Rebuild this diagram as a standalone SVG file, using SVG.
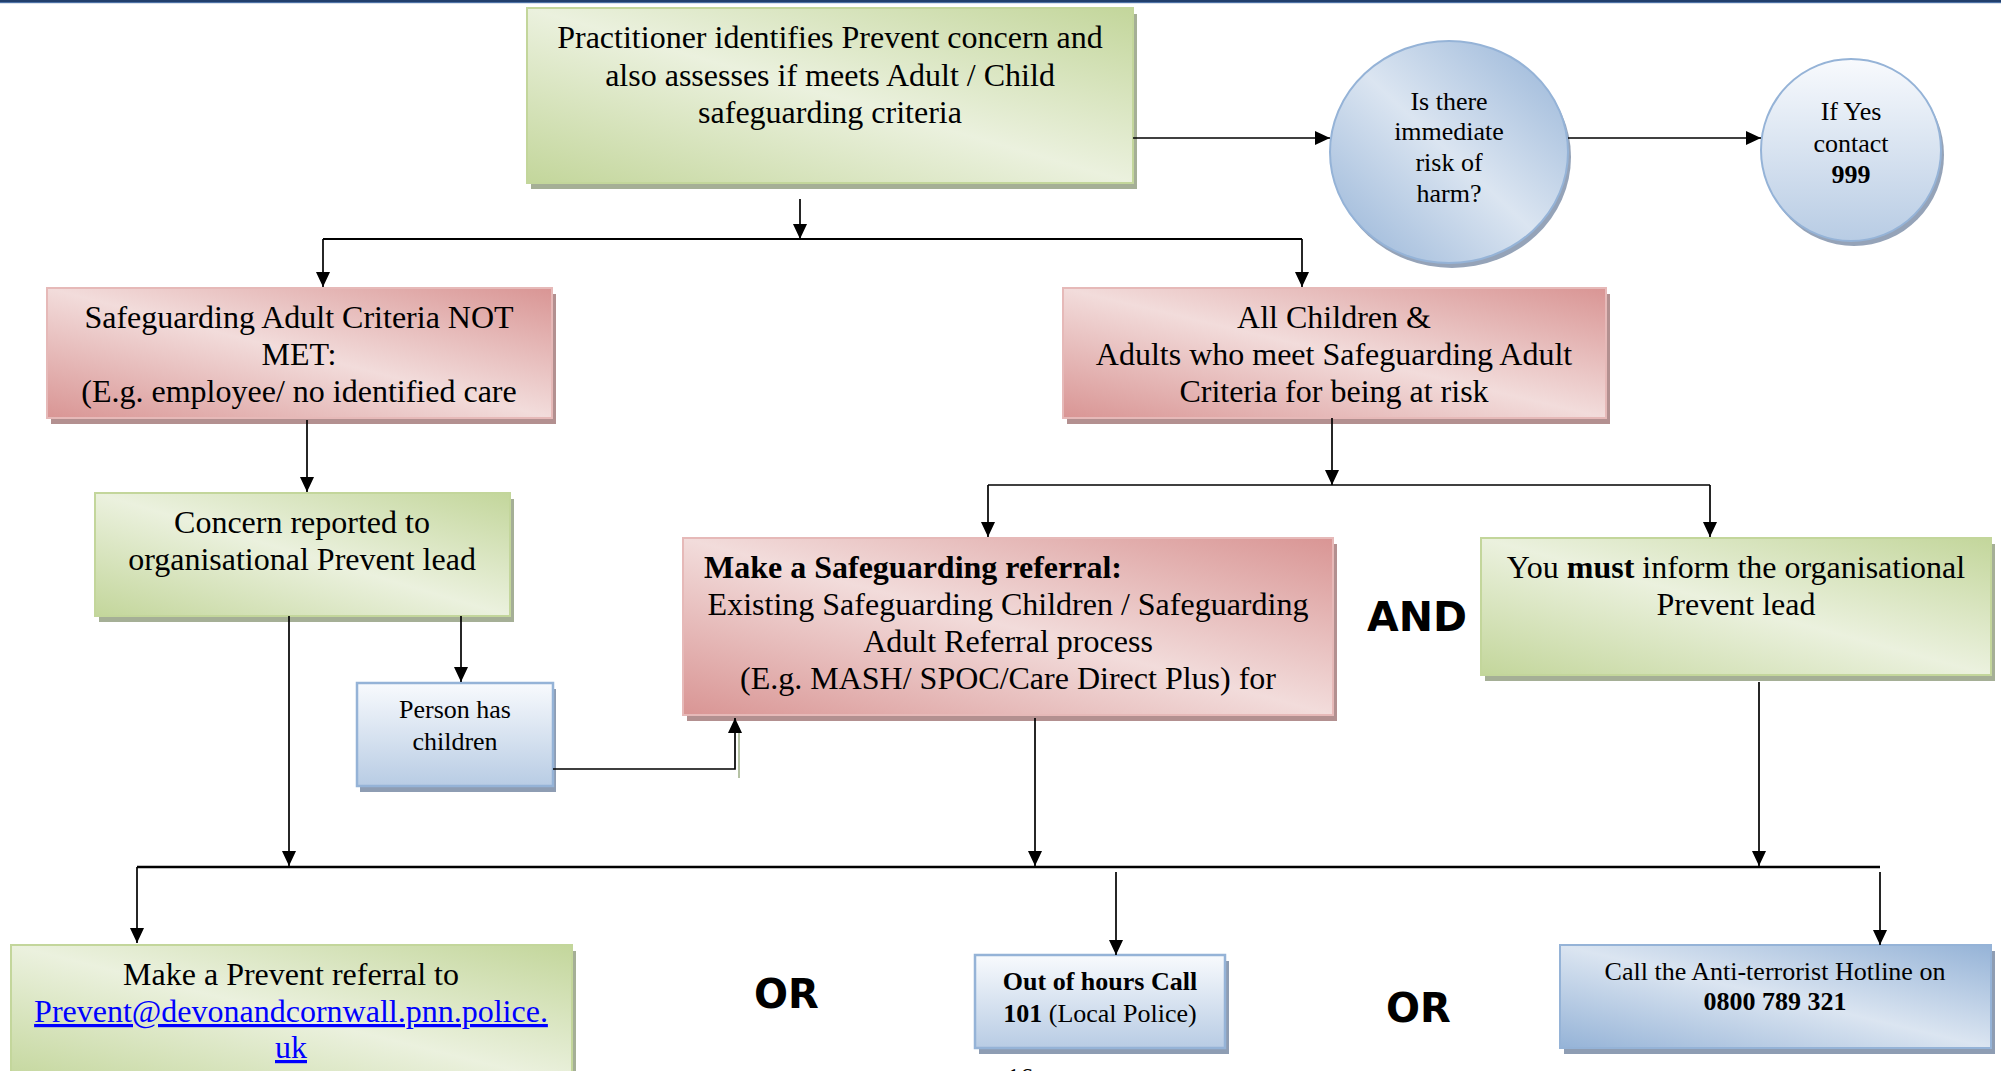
<svg xmlns="http://www.w3.org/2000/svg" width="2001" height="1071" viewBox="0 0 2001 1071">
<defs>
<style>
.t{font-family:'Liberation Serif','Times New Roman',serif;font-size:32px;fill:#000;text-anchor:middle}
.s{font-size:26px}
.b{font-weight:bold}
.k{font-family:'DejaVu Sans','Liberation Sans',sans-serif;font-weight:bold;font-size:40px;fill:#000}
.c{fill:none;stroke:#000;stroke-width:1.7}
.gb{fill:url(#gG);stroke:#C3D69B;stroke-width:2}
.rb{fill:url(#gR);stroke:#E6B9B8;stroke-width:2}
.bb{fill:url(#gB);stroke:#95B3D7;stroke-width:2}
.bv{fill:url(#gV);stroke:#95B3D7;stroke-width:2.5}
.gs{fill:#A5AF96}
.rs{fill:#B39090}
.bs{fill:#8E9DB3}
.link{fill:#0000FF;text-decoration:underline}
</style>
<linearGradient id="gG" x1="1" y1="0" x2="0" y2="1">
<stop offset="0" stop-color="#C3D69B"/><stop offset="0.5" stop-color="#EBF1DE"/><stop offset="1" stop-color="#C3D69B"/>
</linearGradient>
<linearGradient id="gR" x1="1" y1="0" x2="0" y2="1">
<stop offset="0" stop-color="#D99594"/><stop offset="0.5" stop-color="#F2DCDB"/><stop offset="1" stop-color="#D99594"/>
</linearGradient>
<linearGradient id="gB" x1="1" y1="0" x2="0" y2="1">
<stop offset="0" stop-color="#95B3D7"/><stop offset="0.5" stop-color="#DBE5F1"/><stop offset="1" stop-color="#95B3D7"/>
</linearGradient>
<linearGradient id="gV" x1="0" y1="0" x2="0" y2="1">
<stop offset="0" stop-color="#F8FAFD"/><stop offset="1" stop-color="#B8CCE4"/>
</linearGradient>
<marker id="ah" viewBox="0 0 15 14" refX="15" refY="7" markerWidth="15" markerHeight="14" markerUnits="userSpaceOnUse" orient="auto">
<path d="M0,0 L15,7 L0,14 z" fill="#000"/>
</marker>
</defs>
<rect x="0" y="0" width="2001" height="1071" fill="#fff"/>
<rect x="0" y="0" width="2001" height="2" fill="#213F6C"/>
<rect x="0" y="2" width="2001" height="1.2" fill="#4E72A6"/>

<g id="n-practitioner">
<rect class="gs" x="531" y="14" width="606" height="175"/>
<rect class="gb" x="527" y="8" width="606" height="175"/>
<text class="t" x="830" y="48">Practitioner identifies Prevent concern and</text>
<text class="t" x="830" y="86">also assesses if meets Adult / Child</text>
<text class="t" x="830" y="123">safeguarding criteria</text>
</g>

<g id="n-risk">
<ellipse cx="1452" cy="157" rx="119" ry="111" fill="#95A3B8"/>
<ellipse cx="1449" cy="152" rx="119" ry="111" fill="url(#gB)" stroke="#95B3D7" stroke-width="2"/>
<text class="t s" x="1449" y="110">Is there</text>
<text class="t s" x="1449" y="140">immediate</text>
<text class="t s" x="1449" y="171">risk of</text>
<text class="t s" x="1449" y="202">harm?</text>
</g>

<g id="n-999">
<ellipse cx="1854" cy="155" rx="90" ry="91" fill="#95A3B8"/>
<ellipse cx="1851" cy="150" rx="90" ry="91" fill="url(#gV)" stroke="#95B3D7" stroke-width="2"/>
<text class="t s" x="1851" y="120">If Yes</text>
<text class="t s" x="1851" y="152">contact</text>
<text class="t s b" x="1851" y="183">999</text>
</g>

<g id="n-not-met">
<rect class="rs" x="51" y="294" width="505" height="130"/>
<rect class="rb" x="47" y="288" width="505" height="130"/>
<text class="t" x="299" y="328">Safeguarding Adult Criteria NOT</text>
<text class="t" x="299" y="365">MET:</text>
<text class="t" x="299" y="402">(E.g. employee/ no identified care</text>
</g>

<g id="n-all-children">
<rect class="rs" x="1067" y="294" width="543" height="130"/>
<rect class="rb" x="1063" y="288" width="543" height="130"/>
<text class="t" x="1334" y="328">All Children &amp;</text>
<text class="t" x="1334" y="365">Adults who meet Safeguarding Adult</text>
<text class="t" x="1334" y="402">Criteria for being at risk</text>
</g>

<g id="n-concern">
<rect class="gs" x="99" y="499" width="415" height="123"/>
<rect class="gb" x="95" y="493" width="415" height="123"/>
<text class="t" x="302" y="533">Concern reported to</text>
<text class="t" x="302" y="570">organisational Prevent lead</text>
</g>

<g id="n-person-children">
<rect class="bs" x="360" y="689" width="196" height="103"/>
<rect class="bv" x="357" y="683" width="196" height="103"/>
<text class="t s" x="455" y="718">Person has</text>
<text class="t s" x="455" y="750">children</text>
</g>

<g id="n-safeguarding-referral">
<rect class="rs" x="687" y="544" width="650" height="177"/>
<rect class="rb" x="683" y="538" width="650" height="177"/>
<text class="t b" x="704" y="578" style="text-anchor:start">Make a Safeguarding referral:</text>
<text class="t" x="1008" y="615">Existing Safeguarding Children / Safeguarding</text>
<text class="t" x="1008" y="652">Adult Referral process</text>
<text class="t" x="1008" y="689">(E.g. MASH/ SPOC/Care Direct Plus) for</text>
</g>

<g id="n-inform-lead">
<rect class="gs" x="1485" y="544" width="510" height="137"/>
<rect class="gb" x="1481" y="538" width="510" height="137"/>
<text class="t" x="1736" y="578">You <tspan class="b">must</tspan> inform the organisational</text>
<text class="t" x="1736" y="615">Prevent lead</text>
</g>

<g id="n-prevent-referral">
<rect class="gs" x="15" y="951" width="561" height="140"/>
<rect class="gb" x="11" y="945" width="561" height="140"/>
<text class="t" x="291" y="985">Make a Prevent referral to</text>
<text class="t link" x="291" y="1022">Prevent@devonandcornwall.pnn.police.</text>
<text class="t link" x="291" y="1058">uk</text>
</g>

<g id="n-out-of-hours">
<rect class="bs" x="979" y="961" width="250" height="93"/>
<rect class="bv" x="975" y="955" width="250" height="93"/>
<text class="t s b" x="1100" y="990">Out of hours Call</text>
<text class="t s" x="1100" y="1022"><tspan class="b">101</tspan> (Local Police)</text>
</g>

<g id="n-hotline">
<rect class="bs" x="1564" y="951" width="431" height="103"/>
<rect class="bb" x="1560" y="945" width="431" height="103"/>
<text class="t s" x="1775" y="980">Call the Anti-terrorist Hotline on</text>
<text class="t s b" x="1775" y="1010">0800 789 321</text>
</g>

<g id="labels">
<text class="k" x="1367" y="631" textLength="100" lengthAdjust="spacingAndGlyphs">AND</text>
<text class="k" x="754" y="1008">OR</text>
<text class="k" x="1386" y="1022">OR</text>
<text class="t s" x="1020" y="1086">16</text>
</g>

<g id="connectors">
<path class="c" d="M1133,138 H1330" marker-end="url(#ah)"/>
<path class="c" d="M1568,138 H1761" marker-end="url(#ah)"/>
<path class="c" d="M800,199 V239" marker-end="url(#ah)"/>
<path class="c" d="M323,239 H1302" style="stroke-width:2.2"/>
<path class="c" d="M323,239 V287" marker-end="url(#ah)"/>
<path class="c" d="M1302,239 V287" marker-end="url(#ah)"/>
<path class="c" d="M307,420 V492" marker-end="url(#ah)"/>
<path class="c" d="M289,616 V866" marker-end="url(#ah)"/>
<path class="c" d="M461,616 V682" marker-end="url(#ah)"/>
<path d="M739,778 V728" fill="none" stroke="#B5C2A4" stroke-width="2"/>
<path class="c" d="M553,769 H735 V718" marker-end="url(#ah)"/>
<path class="c" d="M1332,418 V485" marker-end="url(#ah)"/>
<path class="c" d="M988,485 H1710"/>
<path class="c" d="M988,485 V537" marker-end="url(#ah)"/>
<path class="c" d="M1710,485 V537" marker-end="url(#ah)"/>
<path class="c" d="M1035,718 V866" marker-end="url(#ah)"/>
<path class="c" d="M1759,682 V866" marker-end="url(#ah)"/>
<path class="c" d="M137,867 H1880" style="stroke-width:2.4"/>
<path class="c" d="M137,867 V943" marker-end="url(#ah)"/>
<path class="c" d="M1116,872 V955" marker-end="url(#ah)"/>
<path class="c" d="M1880,872 V945" marker-end="url(#ah)"/>
</g>
</svg>
